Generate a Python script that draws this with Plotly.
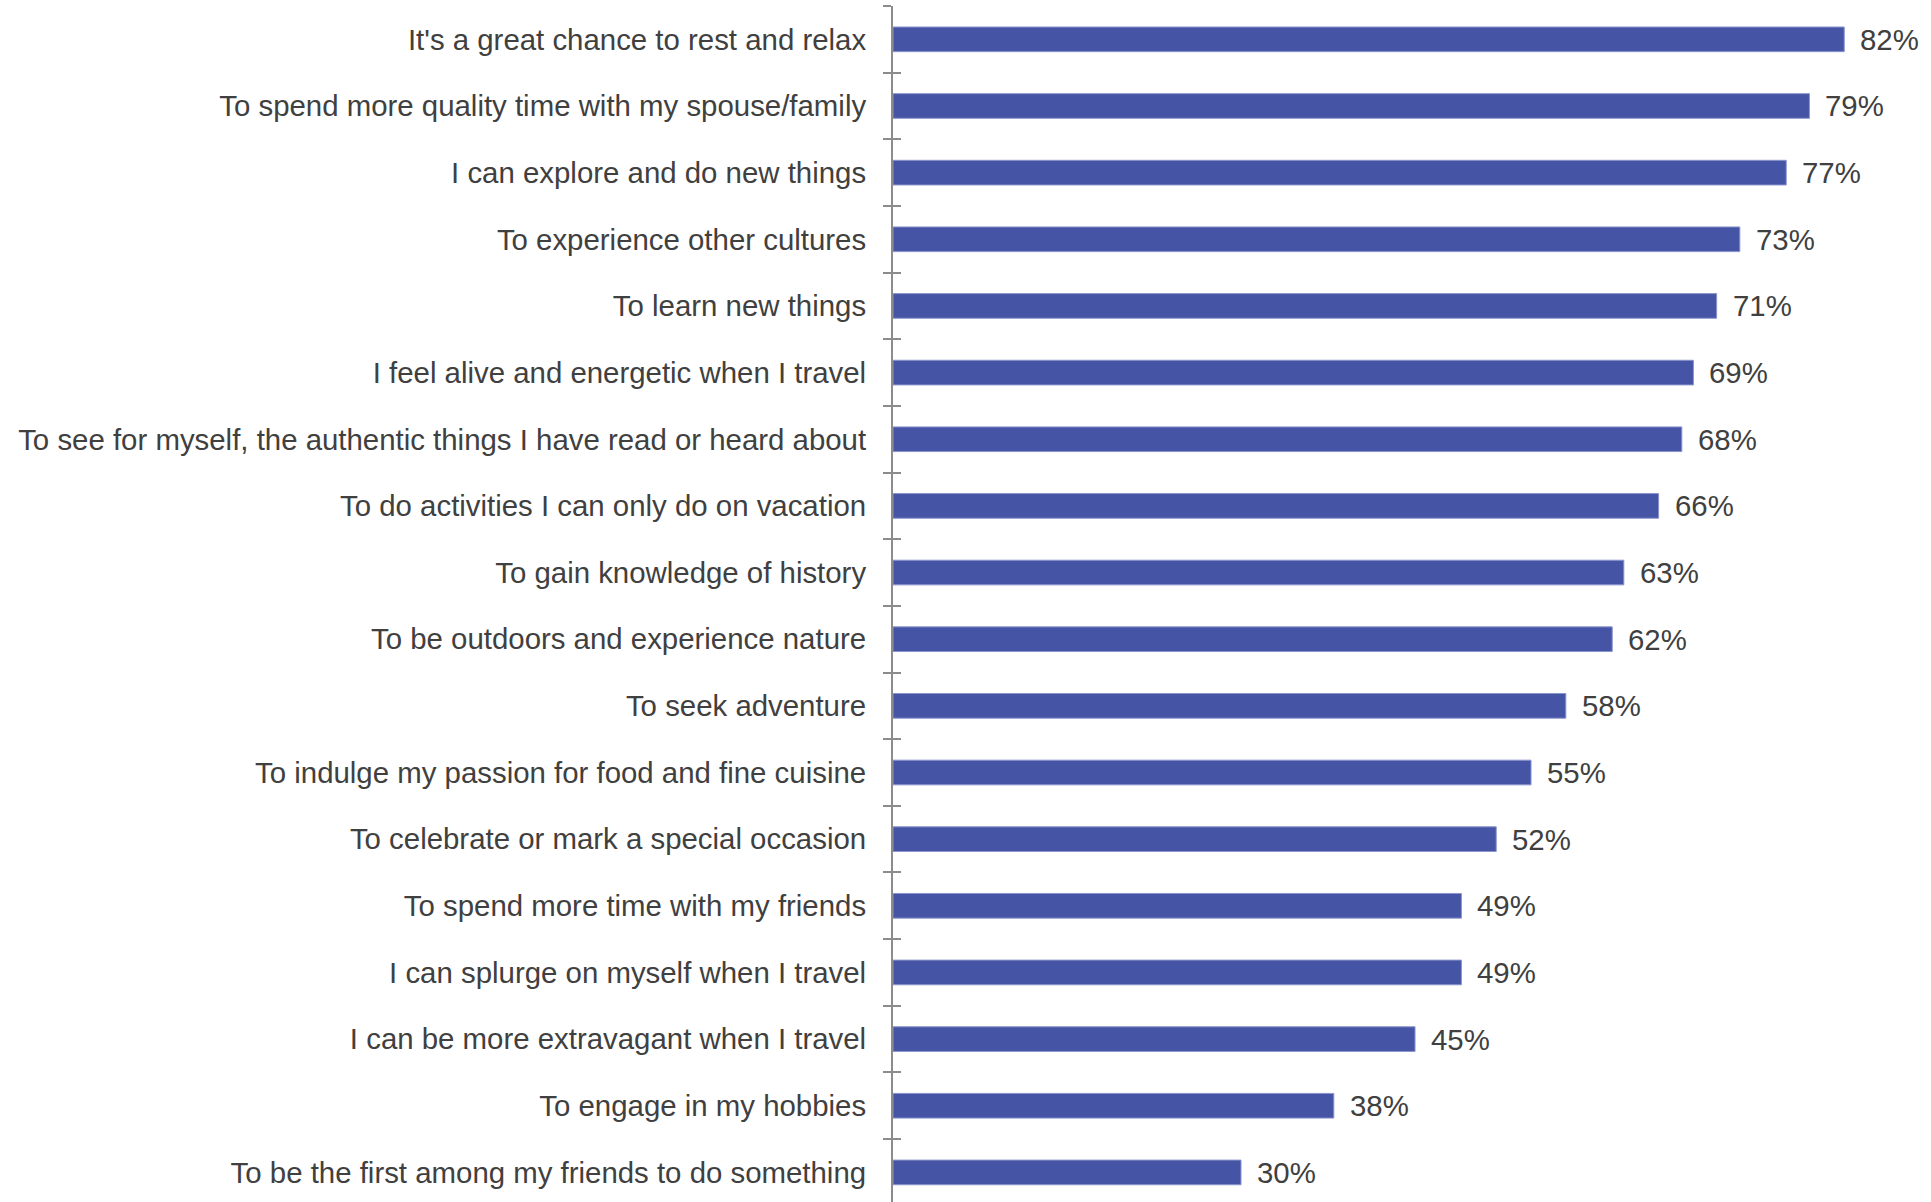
import plotly.graph_objects as go

# Reasons for travelling, share of respondents (%)
reasons = [
    "It's a great chance to rest and relax",
    "To spend more quality time with my spouse/family",
    "I can explore and do new things",
    "To experience other cultures",
    "To learn new things",
    "I feel alive and energetic when I travel",
    "To see for myself, the authentic things I have read or heard about",
    "To do activities I can only do on vacation",
    "To gain knowledge of history",
    "To be outdoors and experience nature",
    "To seek adventure",
    "To indulge my passion for food and fine cuisine",
    "To celebrate or mark a special occasion",
    "To spend more time with my friends",
    "I can splurge on myself when I travel",
    "I can be more extravagant when I travel",
    "To engage in my hobbies",
    "To be the first among my friends to do something",
]
shares = [82, 79, 77, 73, 71, 69, 68, 66, 63, 62, 58, 55, 52, 49, 49, 45, 38, 30]

BAR_COLOR = "#4654A5"
TEXT_COLOR = "#404040"
AXIS_COLOR = "#8C8C8C"
FONT = "Liberation Sans, Arial, sans-serif"
FONT_SIZE = 29.4

y_range = [17.444, -0.5]

fig = go.Figure()
fig.add_trace(go.Bar(
    x=shares,
    y=reasons,
    orientation="h",
    marker=dict(color=BAR_COLOR, line=dict(color="#8A94CC", width=1)),
    hoverinfo="x+y",
    showlegend=False,
))
# invisible helper trace so the overlay axis carries the same categories
fig.add_trace(go.Scatter(
    x=shares,
    y=reasons,
    yaxis="y2",
    mode="markers",
    marker=dict(opacity=0),
    hoverinfo="skip",
    showlegend=False,
))

for r, v in zip(reasons, shares):
    fig.add_annotation(
        x=v, y=r, text=f"{v}%", showarrow=False,
        xanchor="left", yanchor="middle", xshift=14,
        font=dict(family=FONT, size=FONT_SIZE, color=TEXT_COLOR),
    )

fig.update_layout(
    width=1931,
    height=1202,
    margin=dict(l=893, r=0, t=6, b=0),
    paper_bgcolor="white",
    plot_bgcolor="white",
    bargap=0.63,
    font=dict(family=FONT, size=FONT_SIZE, color=TEXT_COLOR),
    xaxis=dict(
        range=[0, 89.48],
        visible=False,
        showgrid=False,
        zeroline=False,
    ),
    yaxis=dict(
        type="category",
        categoryorder="array",
        categoryarray=reasons,
        range=y_range,
        showline=True,
        linecolor=AXIS_COLOR,
        linewidth=2,
        ticks="outside",
        tickson="boundaries",
        ticklen=8,
        tickwidth=2,
        tickcolor=AXIS_COLOR,
        showgrid=False,
        ticklabelstandoff=19,
        tickfont=dict(family=FONT, size=FONT_SIZE, color=TEXT_COLOR),
    ),
    # overlay axis drawing the right-hand half of the crossing ticks
    yaxis2=dict(
        type="category",
        categoryorder="array",
        categoryarray=reasons,
        overlaying="y",
        side="left",
        range=y_range,
        showline=False,
        ticks="inside",
        tickson="boundaries",
        ticklen=8,
        tickwidth=2,
        tickcolor=AXIS_COLOR,
        showticklabels=False,
        showgrid=False,
    ),
)

fig.write_html("out.html")
